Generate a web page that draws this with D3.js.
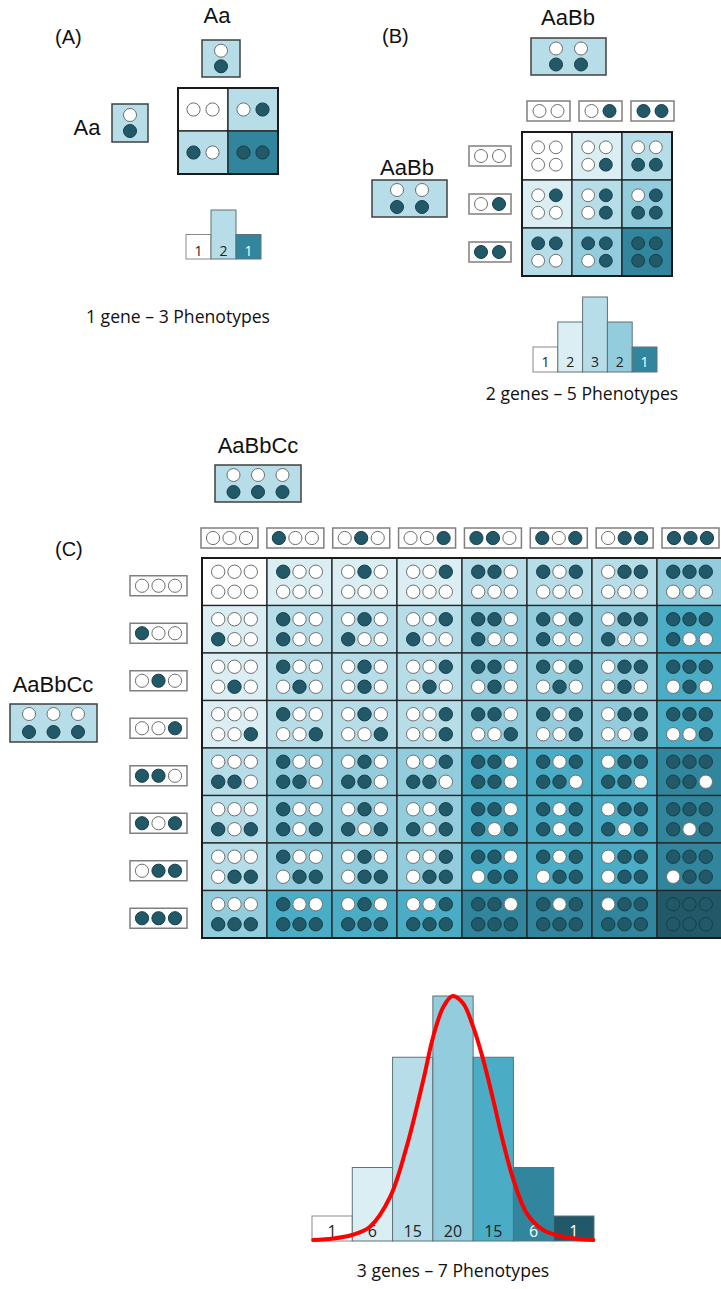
<!DOCTYPE html>
<html><head><meta charset="utf-8">
<script src="https://cdn.jsdelivr.net/npm/d3@7"></script>
<style>body{margin:0;background:#fff}svg{display:block}</style>
</head><body><svg id="chart" width="721" height="1289"></svg>
<script>
// ---------- DATA ----------
// alleles: 0 = recessive (white), 1 = additive/dark
const parentA = [[0],[1]];              // Aa (top row, bottom row)
const parentB = [[0,0],[1,1]];          // AaBb
const parentC = [[0,0,0],[1,1,1]];      // AaBbCc
const gametesA = [[0],[1]];
const gametesB = [[0,0],[0,1],[1,1]];
const gametesC = [[0,0,0],[1,0,0],[0,1,0],[0,0,1],[1,1,0],[1,0,1],[0,1,1],[1,1,1]];
const countsA = [1,2,1];
const countsB = [1,2,3,2,1];
const countsC = [1,6,15,20,15,6,1];
const panelLabels = ["(A)","(B)","(C)"];
const genotypeLabels = ["Aa","AaBb","AaBbCc"];
const captions = ["1 gene \u2013 3 Phenotypes","2 genes \u2013 5 Phenotypes","3 genes \u2013 7 Phenotypes"];
// red curve: [position in bar units, count]
const curveC = [[0.03,0.08],[0.53,0.2],[0.99,0.49],[1.44,1.17],[1.94,3.6],[2.35,7.7],[2.76,13.1],[3.01,16.7],[3.26,19.1],[3.49,20.0],[3.75,19.4],[4.0,17.5],[4.25,14.8],[4.5,11.5],[4.75,8.0],[5.0,5.0],[5.33,2.26],[5.74,0.9],[6.24,0.35],[6.98,0.08]];

// ---------- STYLE ----------
const palA = ["#ffffff","#b7dde8","#31859c"];
const palB = ["#ffffff","#dbeef4","#b7dde8","#93cddd","#31859c"];
const palC = ["#ffffff","#dbeef4","#b7dde8","#93cddd","#4bacc6","#31859c","#215968"];
const DARK = "#215968", DARK_STROKE = "#173e49", WHITE_STROKE = "#6e6e6e";
const PARENT_FILL = "#b7dde8";
const LABEL_FONT = "'Liberation Sans', Arial, sans-serif";
const CAPTION_FONT = "'Open Sans', sans-serif";

const svg = d3.select("#chart");
const sum = a => d3.sum(a);

function alleleRow(g, arr, cx, cy, dx, r) {
  g.append("g").selectAll("circle").data(arr).join("circle")
    .attr("cx", (d,i) => cx + (i - (arr.length-1)/2) * dx)
    .attr("cy", cy).attr("r", r)
    .attr("fill", d => d ? DARK : "#fff")
    .attr("stroke", d => d ? DARK_STROKE : WHITE_STROKE)
    .attr("stroke-width", 1);
}
function parentBox(g, rows, x, y, w, h, dx, dy, r) {
  g.append("rect").attr("x", x).attr("y", y).attr("width", w).attr("height", h)
    .attr("fill", PARENT_FILL).attr("stroke", "#404040").attr("stroke-width", 1.5);
  alleleRow(g, rows[0], x + w/2, y + h/2 - dy, dx, r);
  alleleRow(g, rows[1], x + w/2, y + h/2 + dy, dx, r);
}
function gameteBox(g, arr, x, y, w, h, dx, r) {
  g.append("rect").attr("x", x).attr("y", y).attr("width", w).attr("height", h)
    .attr("fill", "#fff").attr("stroke", "#7f7f7f").attr("stroke-width", 1.5);
  alleleRow(g, arr, x + w/2, y + h/2, dx, r);
}
function text(g, str, x, y, size, anchor, font, fill) {
  return g.append("text").attr("x", x).attr("y", y).attr("font-size", size)
    .attr("font-family", font || LABEL_FONT).attr("text-anchor", anchor || "middle")
    .attr("fill", fill || "#111").text(str);
}
function histogram(g, counts, pal, x0, x1, base, unit, minH, fs, labelY) {
  const x = d3.scaleBand().domain(d3.range(counts.length)).range([x0, x1]);
  const y = d3.scaleLinear().domain([0, d3.max(counts)]).range([0, d3.max(counts) * unit]);
  const h = v => Math.max(y(v), minH);
  g.append("g").selectAll("rect").data(counts).join("rect")
    .attr("x", (d,i) => x(i)).attr("width", x.bandwidth())
    .attr("y", d => base - h(d)).attr("height", d => h(d))
    .attr("fill", (d,i) => pal[i]).attr("stroke", (d,i) => i === 0 ? "#8a8a8a" : "#5d7278").attr("stroke-width", 1);
  g.append("g").selectAll("text").data(counts).join("text")
    .attr("x", (d,i) => x(i) + x.bandwidth()/2).attr("y", labelY)
    .attr("text-anchor", "middle").attr("font-size", fs).attr("font-family", CAPTION_FONT)
    .attr("fill", (d,i) => i >= counts.length - (counts.length > 5 ? 2 : 1) ? "#ffffff" : "#222")
    .text(d => d);
  return x;
}

// ================= PANEL A =================
{
  const g = svg.append("g");
  text(g, panelLabels[0], 55, 44, 20, "start");
  text(g, genotypeLabels[0], 217, 23, 22);
  text(g, genotypeLabels[0], 87, 135, 22);
  parentBox(g, parentA, 202, 40, 38, 37, 0, 7.8, 6.5);
  parentBox(g, parentA, 112, 104, 36, 38, 0, 8, 6.5);
  const bx = d3.scaleBand().domain(d3.range(gametesA.length)).range([178, 278]);
  const by = d3.scaleBand().domain(d3.range(gametesA.length)).range([88, 174]);
  gametesA.forEach((rowG, ri) => gametesA.forEach((colG, ci) => {
    const alle = rowG.concat(colG);
    g.append("rect").attr("x", bx(ci)).attr("y", by(ri)).attr("width", bx.bandwidth()).attr("height", by.bandwidth())
      .attr("fill", palA[sum(alle)]).attr("stroke", "#222").attr("stroke-width", 1.3);
    alleleRow(g, alle, bx(ci) + bx.bandwidth()/2, by(ri) + by.bandwidth()/2, 19, 6.6);
  }));
  g.append("rect").attr("x", 178).attr("y", 88).attr("width", 100).attr("height", 86)
    .attr("fill", "none").attr("stroke", "#1a1a1a").attr("stroke-width", 2);
  histogram(g, countsA, palA, 186, 261, 259, 24.5, 0, 14, 256);
  text(g, captions[0], 178, 323, 17.6, "middle", CAPTION_FONT, "#111");
}

// ================= PANEL B =================
{
  const g = svg.append("g");
  text(g, panelLabels[1], 382, 43, 20, "start");
  text(g, genotypeLabels[1], 568, 25, 22);
  text(g, genotypeLabels[1], 407, 175, 22);
  parentBox(g, parentB, 531, 38, 75, 37, 25, 8, 6.5);
  parentBox(g, parentB, 372, 180, 75, 37, 25, 8.5, 6.5);
  const bx = d3.scaleBand().domain(d3.range(gametesB.length)).range([522, 672]);
  const by = d3.scaleBand().domain(d3.range(gametesB.length)).range([132, 276]);
  const colBox = d3.scaleBand().domain(d3.range(gametesB.length)).range([527, 674]).paddingInner(0.173);
  gametesB.forEach((gm, i) => {
    gameteBox(g, gm, colBox(i), 101, colBox.bandwidth(), 20, 18, 6.5);
    gameteBox(g, gm, 469, by(i) + by.bandwidth()/2 - 10, 42, 20, 18, 6.5);
  });
  gametesB.forEach((rowG, ri) => gametesB.forEach((colG, ci) => {
    const cx = bx(ci) + bx.bandwidth()/2, cy = by(ri) + by.bandwidth()/2;
    g.append("rect").attr("x", bx(ci)).attr("y", by(ri)).attr("width", bx.bandwidth()).attr("height", by.bandwidth())
      .attr("fill", palB[sum(rowG) + sum(colG)]).attr("stroke", "#222").attr("stroke-width", 1.3);
    alleleRow(g, rowG, cx, cy - 8.7, 17.7, 6.4);
    alleleRow(g, colG, cx, cy + 8.7, 17.7, 6.4);
  }));
  g.append("rect").attr("x", 522).attr("y", 132).attr("width", 150).attr("height", 144)
    .attr("fill", "none").attr("stroke", "#1a1a1a").attr("stroke-width", 2);
  histogram(g, countsB, palB, 533, 657, 372, 25, 0, 14, 367);
  text(g, captions[1], 582, 400, 17.6, "middle", CAPTION_FONT, "#111");
}

// ================= PANEL C =================
{
  const g = svg.append("g");
  text(g, panelLabels[2], 55, 556, 20, "start");
  text(g, genotypeLabels[2], 258, 453, 22);
  text(g, genotypeLabels[2], 53, 692, 22);
  parentBox(g, parentC, 215, 465, 86, 37, 24.5, 8.5, 6.5);
  parentBox(g, parentC, 10, 704, 87, 38, 24.5, 9, 6.5);
  const bx = d3.scaleBand().domain(d3.range(gametesC.length)).range([202, 722]);
  const by = d3.scaleBand().domain(d3.range(gametesC.length)).range([558, 938]);
  const colBox = d3.scaleBand().domain(d3.range(gametesC.length)).range([201, 719]).paddingInner(0.1345);
  gametesC.forEach((gm, i) => {
    gameteBox(g, gm, colBox(i), 528, colBox.bandwidth(), 20, 16.5, 6.6);
    gameteBox(g, gm, 130, by(i) + by.bandwidth()/2 + 4 - 10, 57, 20, 16.5, 6.6);
  });
  const grid = g.append("g");
  gametesC.forEach((rowG, ri) => gametesC.forEach((colG, ci) => {
    const cx = bx(ci) + bx.bandwidth()/2, cy = by(ri) + by.bandwidth()/2;
    grid.append("rect").attr("x", bx(ci)).attr("y", by(ri)).attr("width", bx.bandwidth()).attr("height", by.bandwidth())
      .attr("fill", palC[sum(rowG) + sum(colG)]).attr("stroke", "#262626").attr("stroke-width", 1.3);
    alleleRow(grid, colG, cx, cy - 10, 16.3, 6.7);
    alleleRow(grid, rowG, cx, cy + 10, 16.3, 6.7);
  }));
  g.append("rect").attr("x", 202).attr("y", 558).attr("width", 520).attr("height", 380)
    .attr("fill", "none").attr("stroke", "#1a1a1a").attr("stroke-width", 2);

  histogram(g, countsC, palC, 312, 594, 1241, 12.25, 25, 16, 1237);
  const cxs = d3.scaleLinear().domain([0, countsC.length]).range([312, 594]);
  const cys = d3.scaleLinear().domain([0, d3.max(countsC)]).range([1241, 996]);
  g.append("path").datum(curveC)
    .attr("d", d3.line().x(d => cxs(d[0])).y(d => cys(d[1])).curve(d3.curveCatmullRom.alpha(0.5)))
    .attr("fill", "none").attr("stroke", "#ff0000").attr("stroke-width", 4).attr("stroke-linecap", "round");
  text(g, captions[2], 453, 1277, 17.6, "middle", CAPTION_FONT, "#111");
}
</script></body></html>
